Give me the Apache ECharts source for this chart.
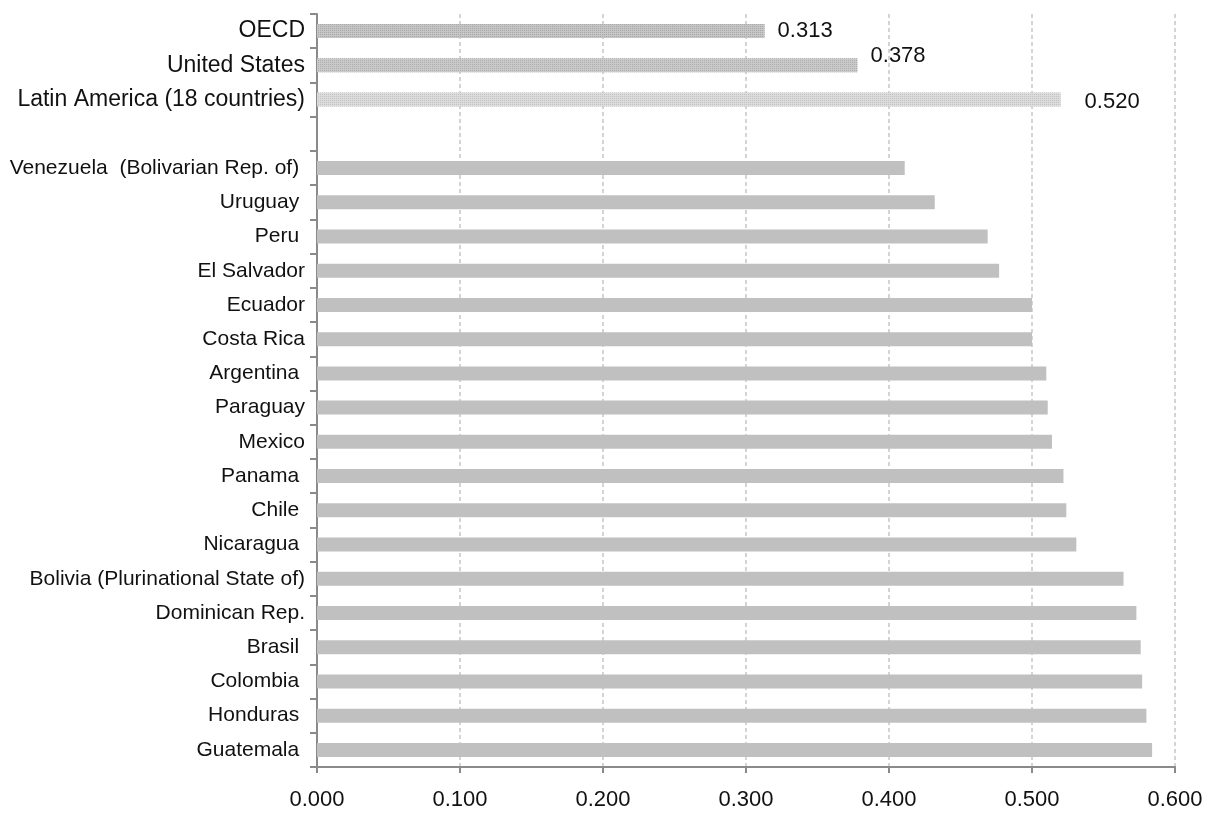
<!DOCTYPE html>
<html>
<head>
<meta charset="utf-8">
<script src="https://cdn.jsdelivr.net/npm/echarts@6/dist/echarts.min.js"></script>
<style>html,body{margin:0;padding:0;background:#fff}#c{width:1208px;height:817px}</style>
</head>
<body>
<div id="c"></div>
<script>
const categories = [
  'OECD', 'United States', 'Latin America (18 countries)', '',
  'Venezuela  (Bolivarian Rep. of) ', 'Uruguay ', 'Peru ', 'El Salvador', 'Ecuador',
  'Costa Rica', 'Argentina ', 'Paraguay', 'Mexico', 'Panama ', 'Chile ',
  'Nicaragua ', 'Bolivia (Plurinational State of)', 'Dominican Rep.', 'Brasil ',
  'Colombia ', 'Honduras ', 'Guatemala '
];
const values = [
  0.313, 0.378, 0.520, null,
  0.411, 0.432, 0.469, 0.477, 0.500,
  0.500, 0.510, 0.511, 0.514, 0.522, 0.524,
  0.531, 0.564, 0.573, 0.576,
  0.577, 0.580, 0.584
];
const xTicks = { min: 0, max: 0.6, interval: 0.1 };

const font = '"Liberation Sans", Arial, sans-serif';
const topStyles = [
  { color: '#c6c6c6', decal: '#a8a8a8', dist: 13, off: [0, 0] },
  { color: '#cacaca', decal: '#acacac', dist: 13, off: [0, -9] },
  { color: '#dcdcdc', decal: '#c2c2c2', dist: 24, off: [0, 2] }
];

const data = values.map((v, i) => {
  if (i < 3) {
    const s = topStyles[i];
    return {
      value: v,
      itemStyle: {
        color: s.color,
        decal: { symbol: 'rect', symbolSize: 1, dashArrayX: [1, 1], dashArrayY: [1, 1], color: s.decal }
      },
      label: {
        show: true, position: 'right', distance: s.dist, offset: s.off,
        formatter: (p) => p.value.toFixed(3),
        fontFamily: font, fontSize: 22, color: '#111'
      }
    };
  }
  return { value: v, itemStyle: { color: '#c0c0c0' } };
});

const chart = echarts.init(document.getElementById('c'));
chart.setOption({
  animation: false,
  backgroundColor: '#fff',
  grid: { left: 317, right: 33, top: 14, bottom: 50, containLabel: false },
  xAxis: {
    type: 'value',
    min: xTicks.min, max: xTicks.max, interval: xTicks.interval,
    axisLine: { show: true, lineStyle: { color: '#8a8a8a', width: 2 } },
    axisTick: { show: true, length: 6, lineStyle: { color: '#8a8a8a', width: 2 } },
    axisLabel: { formatter: (v) => v.toFixed(3), fontFamily: font, fontSize: 22, color: '#111', margin: 22 },
    splitLine: { show: true, lineStyle: { color: '#d4d4d4', type: [4, 3], width: 2 } }
  },
  yAxis: {
    type: 'category',
    inverse: true,
    data: categories,
    axisLine: { show: true, lineStyle: { color: '#8a8a8a', width: 2 } },
    axisTick: { show: true, length: 7, lineStyle: { color: '#8a8a8a', width: 2 } },
    axisLabel: {
      interval: 0, margin: 12, fontFamily: font, fontSize: 21, color: '#111',
      formatter: (v, i) => (i < 3 ? '{b|' + v + '}' : v),
      rich: { b: { fontFamily: font, fontSize: 23, color: '#111' } }
    },
    splitLine: { show: false }
  },
  series: [{
    type: 'bar',
    data: data,
    barWidth: 14
  }]
});
</script>
</body>
</html>
